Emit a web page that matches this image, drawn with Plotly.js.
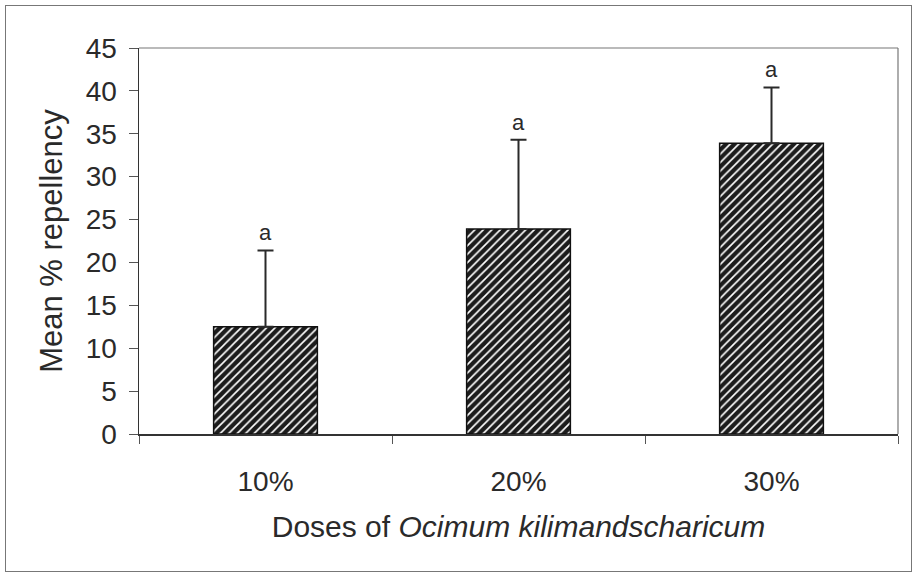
<!DOCTYPE html>
<html>
<head>
<meta charset="utf-8">
<script src="https://cdn.plot.ly/plotly-3.0.1.min.js"></script>
<style>
  body { margin: 0; background: #fff; }
  #wrap { position: relative; width: 914px; height: 574px; }
  #chart { width: 914px; height: 574px; }
  #frame { position: absolute; left: 5px; top: 5px; width: 905px; height: 565px;
           border: 1.5px solid #777; pointer-events: none; }
</style>
</head>
<body>
<div id="wrap">
  <div id="chart"></div>
  <div id="frame"></div>
</div>
<script>
// doses and mean repellency
const doses = ['10%', '20%', '30%'];
const meanRepellency = [12.5, 23.9, 33.9];
const errUp = [8.9, 10.4, 6.5];
const letters = ['a', 'a', 'a'];

const ink = '#2a2a2a';

const bars = {
  type: 'bar',
  x: doses,
  y: meanRepellency,
  width: 0.41,
  marker: {
    color: '#1c1c1c',
    line: { color: '#111', width: 1.5 },
    pattern: {
      shape: '/', fillmode: 'replace',
      bgcolor: '#1c1c1c', fgcolor: '#ffffff', fgopacity: 1,
      size: 6, solidity: 0.27
    }
  },
  error_y: {
    type: 'data',
    symmetric: false,
    array: errUp,
    arrayminus: doses.map(() => 0),
    color: ink,
    thickness: 2,
    width: 8
  },
  hoverinfo: 'x+y'
};

// letter above each error bar
const notes = doses.map((d, i) => ({
  x: d,
  y: meanRepellency[i] + errUp[i],
  text: letters[i],
  showarrow: false,
  yanchor: 'bottom',
  yshift: 3,
  font: { family: 'Liberation Sans, Arial, sans-serif', size: 22, color: ink }
}));

const layout = {
  width: 914,
  height: 574,
  margin: { l: 139, r: 16, t: 48, b: 140 },
  paper_bgcolor: '#fff',
  plot_bgcolor: '#fff',
  showlegend: false,
  font: { family: 'Liberation Sans, Arial, sans-serif', size: 28, color: ink },
  xaxis: {
    type: 'category',
    tickson: 'boundaries',
    ticks: 'outside',
    ticklen: 8,
    tickcolor: '#555',
    showline: true,
    linecolor: '#333',
    linewidth: 1.5,
    mirror: false,
    showgrid: false,
    zeroline: false,
    ticklabelstandoff: 22,
    tickfont: { size: 28, color: ink },
    title: {
      text: 'Doses of <i>Ocimum kilimandscharicum</i>',
      font: { size: 30, color: ink },
      standoff: 20
    }
  },
  yaxis: {
    range: [0, 45],
    tickvals: [0, 5, 10, 15, 20, 25, 30, 35, 40, 45],
    ticks: 'outside',
    ticklen: 9,
    tickcolor: '#555',
    showline: true,
    linecolor: '#333',
    linewidth: 1.5,
    showgrid: false,
    zeroline: false,
    ticklabelstandoff: 6,
    tickfont: { size: 28, color: ink },
    title: {
      text: 'Mean % repellency',
      font: { size: 31, color: ink },
      standoff: 14
    }
  },
  shapes: [
    // top and right edge of plot box
    { type: 'line', xref: 'paper', yref: 'paper', x0: 0, x1: 1, y0: 1, y1: 1,
      line: { color: '#777', width: 1.2 } },
    { type: 'line', xref: 'paper', yref: 'paper', x0: 1, x1: 1, y0: 0, y1: 1,
      line: { color: '#777', width: 1.2 } }
  ],
  annotations: notes
};

Plotly.newPlot('chart', [bars], layout, { displayModeBar: false, staticPlot: true });
</script>
</body>
</html>
